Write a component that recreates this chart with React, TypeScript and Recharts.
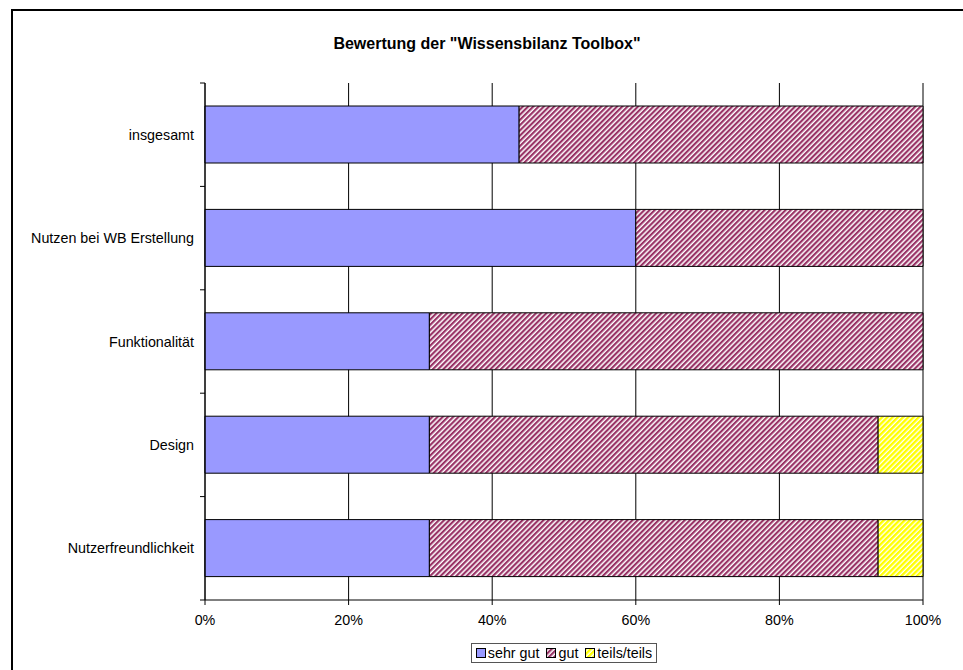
import React from "react";
import { BarChart, Bar, XAxis, YAxis, CartesianGrid, Legend } from "recharts";

const categories = ["insgesamt", "Nutzen bei WB Erstellung", "Funktionalität", "Design", "Nutzerfreundlichkeit"];
const sehrGut = [43.75, 60, 31.25, 31.25, 31.25];
const gut = [56.25, 40, 68.75, 62.5, 62.5];
const teils = [0, 0, 0, 6.25, 6.25];
const xTicks = [0, 20, 40, 60, 80, 100];
const seriesNames = ["sehr gut", "gut", "teils/teils"];
const seriesKeys = ["sehrGut", "gut", "teils"];
const seriesFills = ["#9999FF", "url(#hatchGut)", "url(#hatchTeils)"];
const title = 'Bewertung der "Wissensbilanz Toolbox"';

const data = categories.map((c, i) => ({
  name: c,
  sehrGut: sehrGut[i],
  gut: gut[i],
  teils: teils[i],
}));

const FONT = "'Liberation Sans', Arial, sans-serif";

const YTick = (props: any) => {
  const { x, y, payload, index } = props;
  const half = payload && payload.offset ? payload.offset : 51.7;
  const axisX = x + 8;
  return (
    <g>
      <line x1={axisX - 5} x2={axisX} y1={y - half} y2={y - half} stroke="#000" />
      {index === categories.length - 1 && (
        <line x1={axisX - 5} x2={axisX} y1={y + half} y2={y + half} stroke="#000" />
      )}
      <text x={axisX - 11} y={y} textAnchor="end" dominantBaseline="central" fontSize={14.3} fill="#000" fontFamily={FONT}>
        {payload.value}
      </text>
    </g>
  );
};

const LegendContent = () => (
  <div style={{ display: "flex", justifyContent: "center" }}>
    <div
      style={{
        display: "inline-flex",
        alignItems: "center",
        border: "1px solid #555",
        height: 20,
        padding: "0 4px",
        fontFamily: FONT,
        fontSize: 14.3,
        color: "#000",
        boxSizing: "border-box",
      }}
    >
      {seriesNames.map((n, i) => (
        <span key={n} style={{ display: "inline-flex", alignItems: "center", marginRight: i < 2 ? 7 : 0 }}>
          <svg width={10} height={10} style={{ marginRight: 2 }}>
            <rect x={0.5} y={0.5} width={9} height={9} fill={seriesFills[i]} stroke="#000" />
          </svg>
          {n}
        </span>
      ))}
    </div>
  </div>
);

export default function App() {
  return (
    <div style={{ position: "absolute", left: 0, top: 0, width: 963, height: 670, overflow: "hidden", background: "#fff" }}>
      <div
        style={{
          position: "absolute",
          left: 11,
          top: 9,
          width: 960,
          height: 670,
          border: "2px solid #000",
          boxSizing: "border-box",
        }}
      />
      <div
        style={{
          position: "absolute",
          left: 12,
          width: 950,
          top: 35,
          textAlign: "center",
          fontFamily: FONT,
          fontWeight: "bold",
          fontSize: 16,
          color: "#000",
        }}
      >
        {title}
      </div>
      <div style={{ position: "absolute", left: 0, top: 0 }}>
        <BarChart
          width={963}
          height={670}
          data={data}
          layout="vertical"
          margin={{ top: 83, right: 40, bottom: 20, left: 0 }}
          barSize={57}
        >
          <defs>
            <pattern id="hatchGut" patternUnits="userSpaceOnUse" width={3.7} height={3.7} patternTransform="rotate(45)">
              <rect x={0} y={0} width={3.7} height={3.7} fill="#fff" />
              <rect x={0} y={0} width={2.2} height={3.7} fill="#993366" />
            </pattern>
            <pattern id="hatchTeils" patternUnits="userSpaceOnUse" width={3.7} height={3.7} patternTransform="rotate(45)">
              <rect x={0} y={0} width={3.7} height={3.7} fill="#fff" />
              <rect x={0} y={0} width={2.4} height={3.7} fill="#FFFF00" />
            </pattern>
          </defs>
          <CartesianGrid horizontal={false} stroke="#000" strokeWidth={1} />
          <XAxis
            type="number"
            domain={[0, 100]}
            ticks={xTicks}
            tickFormatter={(v: number) => `${v}%`}
            axisLine={{ stroke: "#000" }}
            tickLine={{ stroke: "#000" }}
            tickSize={5}
            tick={{ fontSize: 14.3, fill: "#000", fontFamily: FONT }}
            tickMargin={10}
            height={30}
            interval={0}
          />
          <XAxis
            xAxisId="top"
            orientation="top"
            type="number"
            domain={[0, 100]}
            tick={false}
            tickLine={false}
            axisLine={{ stroke: "#555" }}
            height={0}
          />
          <YAxis
            type="category"
            dataKey="name"
            width={205}
            axisLine={{ stroke: "#000" }}
            tickLine={false}
            tick={<YTick />}
            interval={0}
          />
          <Legend
            verticalAlign="bottom"
            content={<LegendContent />}
            wrapperStyle={{ left: 205, width: 718, top: 643, height: 20 }}
          />
          {seriesKeys.map((k, i) => (
            <Bar
              key={k}
              dataKey={k}
              name={seriesNames[i]}
              stackId="a"
              fill={seriesFills[i]}
              stroke="#000"
              strokeWidth={1}
              isAnimationActive={false}
            />
          ))}
        </BarChart>
      </div>
    </div>
  );
}
